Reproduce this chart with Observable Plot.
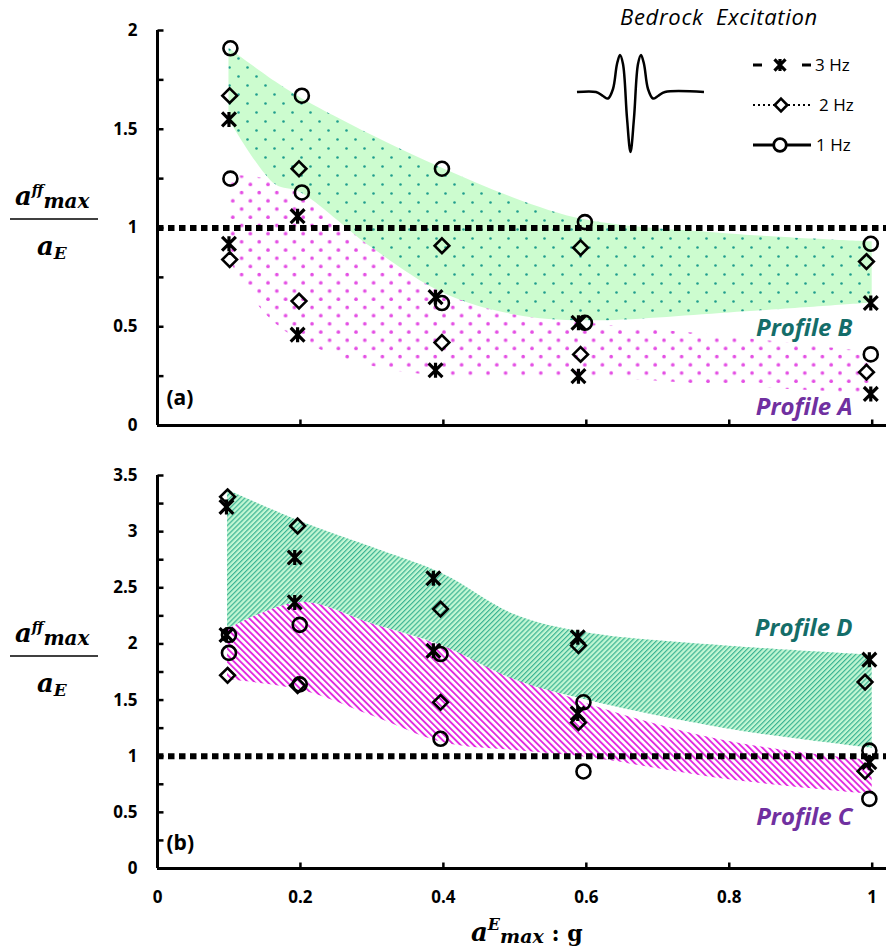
<!DOCTYPE html>
<html><head><meta charset="utf-8">
<script src="https://cdn.jsdelivr.net/npm/d3@7"></script>
<script src="https://cdn.jsdelivr.net/npm/@observablehq/plot@0.6"></script>
<style>
html,body{margin:0;padding:0;background:#fff;}
#chart{position:relative;width:888px;height:946px;overflow:hidden;background:#fff;}
#chart svg{position:absolute;left:0;display:block;}
</style></head><body><div id="chart"></div>
<script>
// ---------- Panel (a): peak ratio markers ----------
const aX1Hz = [0.102, 0.202, 0.398, 0.598, 0.998];
const aB1Hz = [1.91, 1.67, 1.30, 1.03, 0.92];
const aA1Hz = [1.25, 1.18, 0.62, 0.52, 0.36];
const aX2Hz = [0.101, 0.198, 0.398, 0.592, 0.992];
const aB2Hz = [1.67, 1.30, 0.91, 0.90, 0.83];
const aA2Hz = [0.84, 0.63, 0.42, 0.36, 0.27];
const aX3Hz = [0.100, 0.196, 0.389, 0.589, 0.998];
const aB3Hz = [1.55, 1.06, 0.65, 0.52, 0.62];
const aA3Hz = [0.92, 0.46, 0.28, 0.25, 0.16];
// Panel (a) shaded envelopes
const bandBX  = [0.1, 0.165, 0.2, 0.3, 0.4, 0.5, 0.6, 0.8, 1.0];
const bandBHi = [1.91, 1.74, 1.66, 1.47, 1.30, 1.15, 1.04, 0.97, 0.93];
const bandBLo = [1.55, 1.22, 1.18, 0.90, 0.67, 0.56, 0.53, 0.57, 0.62];
const bandAX  = [0.1, 0.15, 0.2, 0.3, 0.4, 0.5, 0.6, 0.8, 1.0];
const bandAHi = [1.27, 1.25, 1.20, 0.98, 0.75, 0.58, 0.52, 0.45, 0.37];
const bandALo = [0.84, 0.57, 0.43, 0.30, 0.25, 0.248, 0.245, 0.20, 0.16];

// ---------- Panel (b) ----------
const bX1Hz = [0.100, 0.199, 0.396, 0.596, 0.996];
const bD1Hz = [2.08, 2.17, 1.91, 1.48, 1.05];
const bC1Hz = [1.92, 1.64, 1.155, 0.864, 0.62];
const bX2Hz = [0.098, 0.196, 0.396, 0.589, 0.990];
const bD2Hz = [3.31, 3.05, 2.31, 1.985, 1.66];
const bC2Hz = [1.72, 1.63, 1.48, 1.30, 0.866];
const bX3Hz = [0.0965, 0.192, 0.386, 0.588, 0.996];
const bD3Hz = [3.22, 2.77, 2.585, 2.06, 1.86];
const bC3Hz = [2.08, 2.37, 1.94, 1.38, 0.947];
const bandDX  = [0.098, 0.2, 0.3, 0.4, 0.5, 0.6, 0.8, 1.0];
const bandDHi = [3.37, 3.09, 2.86, 2.62, 2.26, 2.10, 1.98, 1.90];
const bandDLo = [2.13, 2.37, 2.18, 1.98, 1.68, 1.50, 1.24, 1.07];
const bandCX  = [0.098, 0.2, 0.3, 0.4, 0.5, 0.6, 0.8, 1.0];
const bandCHi = [2.13, 2.37, 2.18, 1.98, 1.72, 1.47, 1.13, 0.96];
const bandCLo = [1.68, 1.59, 1.36, 1.12, 1.05, 0.99, 0.79, 0.66];

// ---------- Axes ----------
const xTickLabels = [0, 0.2, 0.4, 0.6, 0.8, 1];
const xTickMarks = [0.2, 0.4, 0.6, 0.8, 1];
const aYTickLabels = [0, 0.5, 1, 1.5, 2];
const aYTickMarks = [0.25, 0.5, 0.75, 1, 1.25, 1.5, 1.75, 2];
const bYTickLabels = [0, 0.5, 1, 1.5, 2, 2.5, 3, 3.5];
const bYTickMarks = [0.25, 0.5, 0.75, 1, 1.25, 1.5, 1.75, 2, 2.25, 2.5, 2.75, 3, 3.25, 3.5];
const freqLabels = ["3 Hz", "2 Hz", "1 Hz"];
const profileLabels = ["Profile A", "Profile B", "Profile C", "Profile D"];

const zip = (xs, ys) => xs.map((x, i) => ({x, y: ys[i]}));
const band = (xs, lo, hi) => xs.map((x, i) => ({x, lo: lo[i], hi: hi[i]}));

const starSym = {draw(ctx, size) { const r = Math.sqrt(size / Math.PI); const a = r * 0.92;
  ctx.moveTo(-a, -a); ctx.lineTo(a, a); ctx.moveTo(-a, a); ctx.lineTo(a, -a); ctx.moveTo(0, -r); ctx.lineTo(0, r); }};
const diamondSym = {draw(ctx, size) { const r = Math.sqrt(size / Math.PI) * 1.05;
  ctx.moveTo(0, -r); ctx.lineTo(r, 0); ctx.lineTo(0, r); ctx.lineTo(-r, 0); ctx.closePath(); }};
const tickRight = {draw(ctx) { ctx.moveTo(0, 0); ctx.lineTo(6, 0); }};
const tickUp = {draw(ctx) { ctx.moveTo(0, 0); ctx.lineTo(0, -6); }};

const mk = {fill: "none", stroke: "#000", strokeWidth: 2.6, r: 7};
function markerMarks(x1, hi1, lo1, x2, hi2, lo2, x3, hi3, lo3) {
  return [
    Plot.dot(zip(x2, hi2).concat(zip(x2, lo2)), {x: "x", y: "y", symbol: diamondSym, ...mk}),
    Plot.dot(zip(x3, hi3).concat(zip(x3, lo3)), {x: "x", y: "y", symbol: starSym, ...mk, r: 7.5, strokeWidth: 3.2}),
    Plot.dot(zip(x1, hi1).concat(zip(x1, lo1)), {x: "x", y: "y", symbol: "circle", ...mk}),
  ];
}
const sans = "'Open Sans', Lato, sans-serif";
const baseStyle = {fontFamily: sans, fontSize: "17px", fontWeight: "bold", color: "#000", background: "transparent", overflow: "visible"};
const profText = (label, color, dy) => Plot.text([label], {text: d => d, frameAnchor: "top-right", lineAnchor: "middle", textAnchor: "end", dx: -34, dy,
  fill: color, fontSize: 24, fontWeight: "bold", fontStyle: "italic", fontFamily: sans});

const plotA = Plot.plot({
  width: 888, height: 455, marginTop: 30, marginBottom: 30, marginLeft: 157, marginRight: 2,
  style: baseStyle,
  x: {domain: [0, 1.02], axis: null},
  y: {domain: [0, 2], ticks: aYTickLabels, tickSize: 0, tickPadding: 20, tickFormat: d => String(d), label: null},
  marks: [
    Plot.areaY(band(bandAX, bandALo, bandAHi), {x: "x", y1: "lo", y2: "hi", fill: "url(#pinkDots)", curve: "catmull-rom"}),
    Plot.areaY(band(bandBX, bandBLo, bandBHi), {x: "x", y1: "lo", y2: "hi", fill: "url(#greenDots)", curve: "catmull-rom"}),
    Plot.ruleY([1], {stroke: "#000", strokeWidth: 6, strokeDasharray: "6.5 4.5"}),
    Plot.ruleX([0], {stroke: "#000", strokeWidth: 3}),
    Plot.ruleY([0], {stroke: "#000", strokeWidth: 3}),
    Plot.dot(aYTickMarks, {x: () => 0, y: d => d, symbol: tickRight, stroke: "#000", strokeWidth: 2.5, r: 3}),
    Plot.dot(xTickMarks, {x: d => d, y: () => 0, symbol: tickUp, stroke: "#000", strokeWidth: 2.5, r: 3}),
    ...markerMarks(aX1Hz, aB1Hz, aA1Hz, aX2Hz, aB2Hz, aA2Hz, aX3Hz, aB3Hz, aA3Hz),
    profText(profileLabels[1], "#146d69", 298),
    profText(profileLabels[0], "#7030a0", 377),
    Plot.text(["(a)"], {text: d => d, frameAnchor: "bottom-left", lineAnchor: "middle", textAnchor: "start", dx: 9, dy: -27, fontSize: 21, fontWeight: "bold", fontFamily: sans})
  ]
});

const plotB = Plot.plot({
  width: 888, height: 491, marginTop: 20, marginBottom: 78, marginLeft: 157, marginRight: 2,
  style: baseStyle,
  x: {domain: [0, 1.02], ticks: xTickLabels, tickSize: 0, tickPadding: 22, tickFormat: d => String(d), label: null},
  y: {domain: [0, 3.5], ticks: bYTickLabels, tickSize: 0, tickPadding: 20, tickFormat: d => String(d), label: null},
  marks: [
    Plot.areaY(band(bandCX, bandCLo, bandCHi), {x: "x", y1: "lo", y2: "hi", fill: "url(#pinkStripes)", curve: "catmull-rom"}),
    Plot.areaY(band(bandDX, bandDLo, bandDHi), {x: "x", y1: "lo", y2: "hi", fill: "url(#greenStripes)", curve: "catmull-rom"}),
    Plot.ruleY([1], {stroke: "#000", strokeWidth: 6, strokeDasharray: "6.5 4.5"}),
    Plot.ruleX([0], {stroke: "#000", strokeWidth: 3}),
    Plot.ruleY([0], {stroke: "#000", strokeWidth: 3}),
    Plot.dot(bYTickMarks, {x: () => 0, y: d => d, symbol: tickRight, stroke: "#000", strokeWidth: 2.5, r: 3}),
    Plot.dot(xTickMarks, {x: d => d, y: () => 0, symbol: tickUp, stroke: "#000", strokeWidth: 2.5, r: 3}),
    ...markerMarks(bX1Hz, bD1Hz, bC1Hz, bX2Hz, bD2Hz, bC2Hz, bX3Hz, bD3Hz, bC3Hz),
    profText(profileLabels[3], "#146d69", 153),
    profText(profileLabels[2], "#7030a0", 342),
    Plot.text(["(b)"], {text: d => d, frameAnchor: "bottom-left", lineAnchor: "middle", textAnchor: "start", dx: 9, dy: -25, fontSize: 21, fontWeight: "bold", fontFamily: sans})
  ]
});

const chart = document.getElementById("chart");
plotA.style.top = "0px";
plotB.style.top = "455px";
chart.appendChild(plotA);
chart.appendChild(plotB);

// ---------- pattern fills ----------
const NS = "http://www.w3.org/2000/svg";
function defsFor(svg, html) {
  const d = document.createElementNS(NS, "defs");
  d.innerHTML = html;
  svg.insertBefore(d, svg.firstChild);
}
defsFor(plotA, `
  <pattern id="greenDots" patternUnits="userSpaceOnUse" width="18" height="18">
    <rect width="18" height="18" fill="#ccfccf"/>
    <circle cx="4.5" cy="4.5" r="1.3" fill="#1f9e8e"/>
    <circle cx="13.5" cy="13.5" r="1.3" fill="#1f9e8e"/>
  </pattern>
  <pattern id="pinkDots" patternUnits="userSpaceOnUse" width="17.6" height="16.4">
    <circle cx="4" cy="4" r="1.8" fill="#e44ee4"/>
    <circle cx="12.8" cy="12.2" r="1.8" fill="#e44ee4"/>
  </pattern>`);
defsFor(plotB, `
  <pattern id="greenStripes" patternUnits="userSpaceOnUse" width="3.5" height="10" patternTransform="rotate(45)">
    <rect width="3.5" height="10" fill="#c2f7d3"/>
    <rect width="1.2" height="10" fill="#3bb393"/>
  </pattern>
  <pattern id="pinkStripes" patternUnits="userSpaceOnUse" width="4.6" height="10" patternTransform="rotate(-45)">
    <rect width="4.6" height="10" fill="#ffffff"/>
    <rect width="1.9" height="10" fill="#e22ae0"/>
  </pattern>`);

// ---------- math-style axis titles ----------
const serif = "'DejaVu Serif', 'Liberation Serif', serif";
function fraction(svg, yNum, yLine, yDen) {
  const s = d3.select(svg).append("g").attr("text-anchor", "start");
  const n = s.append("text").attr("x", 15).attr("y", yNum).attr("font-family", serif)
    .attr("font-weight", "bold").attr("font-style", "italic").attr("fill", "#000");
  n.append("tspan").attr("font-size", 26).text("a");
  n.append("tspan").attr("font-size", 14).attr("dy", -10).text("ff");
  n.append("tspan").attr("font-size", 20).attr("dy", 13).text("max");
  s.append("line").attr("x1", 10).attr("x2", 98).attr("y1", yLine).attr("y2", yLine)
    .attr("stroke", "#000").attr("stroke-width", 1.5);
  const dn = s.append("text").attr("x", 37).attr("y", yDen).attr("font-family", serif)
    .attr("font-weight", "bold").attr("font-style", "italic").attr("fill", "#000");
  dn.append("tspan").attr("font-size", 26).text("a");
  dn.append("tspan").attr("font-size", 17).attr("dy", 4).text("E");
}
fraction(plotA, 205, 219, 255);
fraction(plotB, 187, 201, 237);
{
  const t = d3.select(plotB).append("text").attr("text-anchor", "start").attr("x", 471).attr("y", 486).attr("font-family", serif)
    .attr("font-weight", "bold").attr("font-style", "italic").attr("fill", "#000");
  t.append("tspan").attr("font-size", 26).text("a");
  t.append("tspan").attr("font-size", 16).attr("dy", -11).text("E");
  t.append("tspan").attr("font-size", 19).attr("dy", 13).text("max");
  t.append("tspan").attr("font-size", 22).attr("dy", -2).attr("font-style", "normal").text(" : g");
}

// ---------- legend (Bedrock Excitation) ----------
{
  const s = d3.select(plotA).append("g").attr("text-anchor", "start");
  s.append("text").attr("x", 719).attr("y", 25).attr("text-anchor", "middle")
    .attr("font-family", sans).attr("font-style", "italic").attr("font-weight", "normal")
    .attr("font-size", 22).attr("letter-spacing", 0.7).attr("word-spacing", 6).attr("fill", "#000")
    .text("Bedrock Excitation");
  // wavelet glyph
  const w = [[577,92],[596,92],[603,96],[608,98.5],[613,89],[617,64],[620,55],[623,64],[627,118],[630.5,152],
             [634,118],[638,64],[641,55],[644,64],[648,89],[653,98.5],[658,96],[665,92],[704,92]];
  s.append("path").attr("d", d3.line().curve(d3.curveCatmullRom)(w)).attr("fill", "none")
    .attr("stroke", "#000").attr("stroke-width", 2.5);
  const rows = [65, 105, 145];
  const lx1 = 753, lx2 = 811, cx = 780;
  // 3 Hz
  s.append("line").attr("x1", lx1).attr("x2", 762).attr("y1", rows[0]).attr("y2", rows[0]).attr("stroke", "#000").attr("stroke-width", 3);
  s.append("line").attr("x1", 802).attr("x2", lx2).attr("y1", rows[0]).attr("y2", rows[0]).attr("stroke", "#000").attr("stroke-width", 3);
  s.append("path").attr("transform", `translate(${cx},${rows[0]})`).attr("d", d3.symbol(starSym, Math.PI * 36)())
    .attr("fill", "none").attr("stroke", "#000").attr("stroke-width", 3.2);
  // 2 Hz
  s.append("line").attr("x1", lx1).attr("x2", lx2).attr("y1", rows[1]).attr("y2", rows[1]).attr("stroke", "#000")
    .attr("stroke-width", 2).attr("stroke-dasharray", "2 3");
  s.append("path").attr("transform", `translate(${cx + 1},${rows[1]})`).attr("d", d3.symbol(diamondSym, Math.PI * 36)())
    .attr("fill", "#fff").attr("stroke", "#000").attr("stroke-width", 2.6);
  // 1 Hz
  s.append("line").attr("x1", lx1).attr("x2", lx2).attr("y1", rows[2]).attr("y2", rows[2]).attr("stroke", "#000").attr("stroke-width", 3);
  s.append("circle").attr("cx", cx).attr("cy", rows[2]).attr("r", 6.3).attr("fill", "#fff").attr("stroke", "#000").attr("stroke-width", 2.8);
  freqLabels.forEach((f, i) => {
    s.append("text").attr("x", [815, 819, 816][i]).attr("y", rows[i] + 6).attr("font-family", sans)
      .attr("font-weight", "normal").attr("font-size", 17).attr("fill", "#000").text(f);
  });
}
</script></body></html>
